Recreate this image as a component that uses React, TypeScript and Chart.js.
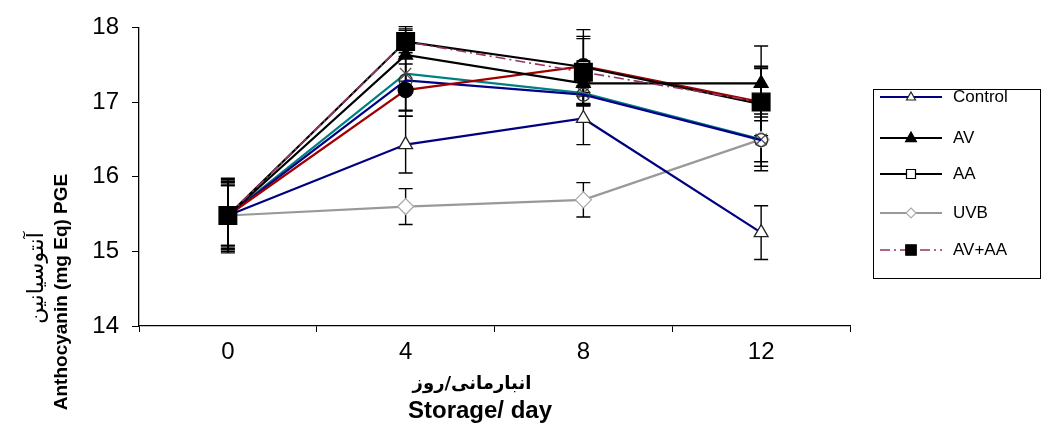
import React, { useEffect, useRef } from 'react';
import { Chart, registerables } from 'chart.js';

Chart.register(...registerables);

// ---- data ----
const days = ['0', '4', '8', '12'];
const yTicks = [14, 15, 16, 17, 18];

const controlValues = [15.48, 16.43, 16.78, 15.25];
const controlErrors = [0.45, 0.38, 0.35, 0.36];
const avValues = [15.48, 17.63, 17.25, 17.25];
const avErrors = [0.4, 0.35, 0.3, 0.5];
const aaValues = [15.48, 17.81, 17.47, 16.97];
const aaErrors = [0.48, 0.2, 0.5, 0.5];
const uvbValues = [15.48, 15.6, 15.69, 16.5];
const uvbErrors = [0.42, 0.24, 0.23, 0.42];
const avaaValues = [15.48, 17.81, 17.4, 17.0];
const avaaErrors = [0.5, 0.15, 0.45, 0.45];
const tealValues = [15.48, 17.38, 17.12, 16.5];
const tealErrors = [0.44, 0.5, 0.15, 0.3];
const blueValues = [15.48, 17.29, 17.1, 16.49];
const blueErrors = [0.46, 0.4, 0.12, 0.35];
const redValues = [15.48, 17.16, 17.48, 17.0];
const redErrors = [0.4, 0.35, 0.4, 0.48];

const legendLabels = ['Control', 'AV', 'AA', 'UVB', 'AV+AA'];
const yTitleFa = 'آنتوسیانین';
const yTitleEn = 'Anthocyanin (mg Eq) PGE';
const xTitleFa = 'انبارمانی/روز';
const xTitleEn = 'Storage/ day';

function legendMarker(ctx: CanvasRenderingContext2D, style: string, r: number, x: number, y: number) {
  ctx.beginPath();
  if (style === 'triangle') {
    ctx.moveTo(x, y - r);
    ctx.lineTo(x + r * 0.9, y + r * 0.6);
    ctx.lineTo(x - r * 0.9, y + r * 0.6);
    ctx.closePath();
  } else if (style === 'rect') {
    ctx.rect(x - r * 0.75, y - r * 0.75, r * 1.5, r * 1.5);
  } else if (style === 'rectRot') {
    ctx.moveTo(x, y - r);
    ctx.lineTo(x + r, y);
    ctx.lineTo(x, y + r);
    ctx.lineTo(x - r, y);
    ctx.closePath();
  }
  ctx.fill();
  ctx.stroke();
}

const errorBarPlugin = {
  id: 'errorBars',
  beforeDatasetsDraw(chart: any) {
    const ctx = chart.ctx;
    const xs = chart.scales.x;
    const ys = chart.scales.y;
    ctx.save();
    ctx.strokeStyle = '#000';
    ctx.lineWidth = 1.4;
    chart.data.datasets.forEach((ds: any) => {
      if (!ds.errors) return;
      ds.data.forEach((v: number, i: number) => {
        const e = ds.errors[i];
        const x = xs.getPixelForValue(i);
        const yt = ys.getPixelForValue(v + e);
        const yb = ys.getPixelForValue(v - e);
        ctx.beginPath();
        ctx.moveTo(x, yt);
        ctx.lineTo(x, yb);
        ctx.moveTo(x - 7, yt);
        ctx.lineTo(x + 7, yt);
        ctx.moveTo(x - 7, yb);
        ctx.lineTo(x + 7, yb);
        ctx.stroke();
      });
    });
    ctx.restore();
  },
};

const titlesLegendPlugin = {
  id: 'titlesLegend',
  afterDraw(chart: any) {
    const ctx = chart.ctx;
    ctx.save();
    ctx.fillStyle = '#000';
    ctx.textAlign = 'center';
    ctx.textBaseline = 'middle';
    // y titles (rotated)
    ctx.save();
    ctx.translate(37, 278);
    ctx.rotate(-Math.PI / 2);
    ctx.font = '22px "DejaVu Sans", sans-serif';
    ctx.fillText(yTitleFa, 0, 0);
    ctx.restore();
    ctx.save();
    ctx.translate(62, 292);
    ctx.rotate(-Math.PI / 2);
    ctx.font = 'bold 19px "Liberation Sans", Arial, sans-serif';
    ctx.fillText(yTitleEn, 0, 0);
    ctx.restore();
    // x titles
    ctx.font = 'bold 18px "DejaVu Sans", sans-serif';
    ctx.fillText(xTitleFa, 472, 384);
    ctx.font = 'bold 24px "Liberation Sans", Arial, sans-serif';
    ctx.fillText(xTitleEn, 480, 411);

    // legend
    const bx = 873, by = 89, bw = 167, bh = 189;
    ctx.strokeStyle = '#000';
    ctx.lineWidth = 1;
    ctx.strokeRect(bx + 0.5, by + 0.5, bw, bh);
    const rowY = [97, 138, 174, 213, 250];
    ctx.textAlign = 'left';
    ctx.font = '17px "Liberation Sans", Arial, sans-serif';
    legendLabels.forEach((label, k) => {
      const ds = chart.data.datasets.find((d: any) => d.label === label);
      if (!ds) return;
      const y = rowY[k];
      ctx.save();
      ctx.strokeStyle = ds.borderColor;
      ctx.lineWidth = ds.borderWidth;
      ctx.setLineDash(ds.borderDash || []);
      ctx.beginPath();
      ctx.moveTo(880, y);
      ctx.lineTo(942, y);
      ctx.stroke();
      ctx.restore();
      ctx.save();
      ctx.fillStyle = ds.pointBackgroundColor;
      ctx.strokeStyle = ds.pointBorderColor;
      ctx.lineWidth = 1.2;
      legendMarker(ctx, ds.pointStyle, ds.legendRadius, 911, y);
      ctx.restore();
      ctx.fillStyle = '#000';
      ctx.fillText(label, 953, y);
    });
    ctx.restore();
  },
};

export default function App() {
  const ref = useRef<HTMLCanvasElement>(null);
  useEffect(() => {
    if (!ref.current) return;
    const mk = (o: any) => ({
      fill: false,
      tension: 0,
      borderWidth: 2.2,
      pointBorderWidth: 1.3,
      pointHoverRadius: o.pointRadius,
      ...o,
    });
    const datasets = [
      mk({ label: 'AV+AA', data: avaaValues, errors: avaaErrors, borderColor: '#993366', borderDash: [10, 4, 2, 4], borderWidth: 1.6, pointStyle: 'rect', pointRadius: 12.5, legendRadius: 7, pointBackgroundColor: '#000', pointBorderColor: '#000' }),
      mk({ label: 'AV', data: avValues, errors: avErrors, borderColor: '#000', pointStyle: 'triangle', pointRadius: 8, legendRadius: 6, pointBackgroundColor: '#000', pointBorderColor: '#000' }),
      mk({ label: 'AA', data: aaValues, errors: aaErrors, borderColor: '#000', pointStyle: 'rect', pointRadius: 8, legendRadius: 6, pointBackgroundColor: '#fff', pointBorderColor: '#000' }),
      mk({ label: 'red', data: redValues, errors: redErrors, borderColor: '#a00000', pointStyle: 'circle', pointRadius: 7.5, pointBackgroundColor: '#000', pointBorderColor: '#000' }),
      mk({ label: 'Control', data: controlValues, errors: controlErrors, borderColor: '#000080', pointStyle: 'triangle', pointRadius: 8, legendRadius: 5, pointBackgroundColor: '#fff', pointBorderColor: '#222' }),
      mk({ label: 'blue', data: blueValues, errors: blueErrors, borderColor: '#00008b', pointStyle: 'circle', pointRadius: 6.5, pointBackgroundColor: 'rgba(0,0,0,0)', pointBorderColor: '#333' }),
      mk({ label: 'teal', data: tealValues, errors: tealErrors, borderColor: '#008080', pointStyle: 'crossRot', pointRadius: 8, pointBackgroundColor: '#555', pointBorderColor: '#555' }),
      mk({ label: 'UVB', data: uvbValues, errors: uvbErrors, borderColor: '#999999', pointStyle: 'rectRot', pointRadius: 8, legendRadius: 5, pointBackgroundColor: '#fff', pointBorderColor: '#aaa' }),
    ];
    const chart = new Chart(ref.current, {
      type: 'line',
      data: { labels: days, datasets },
      options: {
        responsive: false,
        animation: false,
        layout: { padding: { left: 0, right: 193, top: 22, bottom: 0 } },
        plugins: { legend: { display: false }, tooltip: { enabled: false } },
        scales: {
          x: {
            type: 'category',
            offset: true,
            grid: { offset: true, drawOnChartArea: false, drawTicks: true, tickLength: 6, color: '#000' },
            border: { color: '#000', width: 1.3 },
            ticks: { color: '#000', padding: 6, font: { family: '"Liberation Sans", Arial, sans-serif', size: 24 } },
            afterFit: (s: any) => { s.height = 99; },
          },
          y: {
            min: yTicks[0],
            max: yTicks[yTicks.length - 1],
            afterBuildTicks: (s: any) => { s.ticks = yTicks.map((v) => ({ value: v })); },
            grid: { drawOnChartArea: false, drawTicks: true, tickLength: 7, color: '#000' },
            border: { color: '#000', width: 1.3 },
            ticks: { color: '#000', padding: 13, font: { family: '"Liberation Sans", Arial, sans-serif', size: 24 } },
            afterFit: (s: any) => { s.width = 139; },
          },
        },
      },
      plugins: [errorBarPlugin, titlesLegendPlugin],
    } as any);
    return () => chart.destroy();
  }, []);
  return (
    <div style={{ position: 'absolute', left: 0, top: 0, width: 1043, height: 425, background: '#fff' }}>
      <canvas ref={ref} width={1043} height={425} style={{ display: 'block' }} />
    </div>
  );
}
